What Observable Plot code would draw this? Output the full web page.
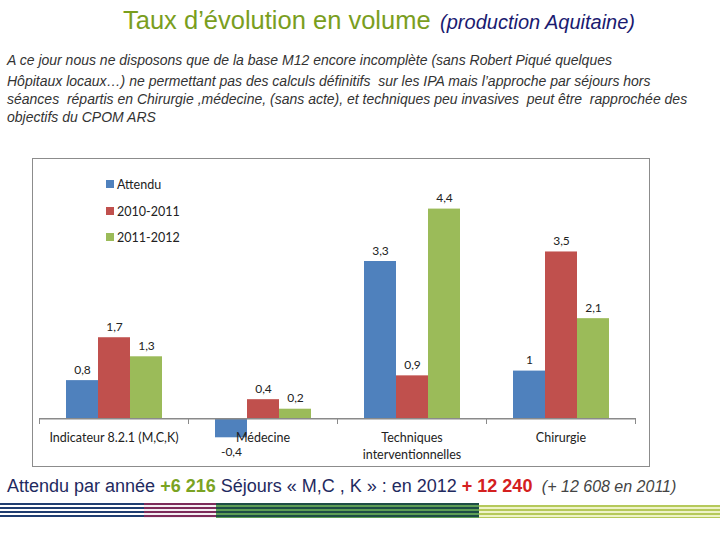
<!DOCTYPE html>
<html><head><meta charset="utf-8">
<script src="https://cdn.jsdelivr.net/npm/d3@7"></script>
<script src="https://cdn.jsdelivr.net/npm/@observablehq/plot@0.6"></script>
<style>
body{margin:0;width:720px;height:540px;background:#fff;position:relative;overflow:hidden;font-family:"Liberation Sans",Arial,sans-serif}
.abs{position:absolute;white-space:nowrap}
#title{left:123px;top:6px}
#title .g{color:#7a9e1e;font-size:25.5px}
#title .n{color:#1a1a70;font-size:20px;font-style:italic;margin-left:5px}
#para{left:7px;top:51px;font-style:italic;font-size:14px;line-height:18px;color:#333;white-space:pre}
#para .l1{display:block;margin-bottom:3px}
#box{left:32px;top:158px;width:616px;height:307px;border:1px solid #8c8c8c}
#legend{left:106px;top:177px;font-family:Lato,"Open Sans",sans-serif;font-size:12.5px;color:#222}
#legend div{height:26.5px;display:flex;align-items:flex-start}
#legend span.sw{display:inline-block;width:8px;height:8px;margin:3px 3px 0 0}
#bottom{left:7px;top:476px;font-size:18px;color:#1f2a60}
#bottom .g{color:#7aa323;font-weight:bold}
#bottom .r{color:#d42020;font-weight:bold}
#bottom .i{color:#444;font-style:italic;font-size:16px}
.stripe{position:absolute;top:503px;height:15px}
</style></head>
<body>
<div id="title" class="abs"><span class="g">Taux d’évolution en volume</span> <span class="n">(production Aquitaine)</span></div>
<div id="para" class="abs"><span class="l1">A ce jour nous ne disposons que de la base M12 encore incomplète (sans Robert Piqué quelques</span>Hôpitaux locaux…) ne permettant pas des calculs définitifs  sur les IPA mais l’approche par séjours hors
séances  répartis en Chirurgie ,médecine, (sans acte), et techniques peu invasives  peut être  rapprochée des
objectifs du CPOM ARS</div>
<div id="box" class="abs"></div>
<div id="legend" class="abs"></div>
<div id="bottom" class="abs">Attendu par année <span class="g">+6 216</span> Séjours « M,C , K » : en 2012 <span class="r">+ 12 240</span> <span class="i">&nbsp;(+ 12 608 en 2011)</span></div>
<div class="stripe" style="left:0;width:144px;background:repeating-linear-gradient(#1f3d70 0 2px,#fff 2px 4px)"></div>
<div class="stripe" style="left:144px;width:72px;background:repeating-linear-gradient(#7d2b5a 0 2px,#f4eef2 2px 4px)"></div>
<div class="stripe" style="left:216px;width:263px;background:repeating-linear-gradient(#1d4d45 0 2px,#5e9e55 2px 4px)"></div>
<div class="stripe" style="left:479px;width:241px;top:505px;height:13px;background:repeating-linear-gradient(#b5c95a 0 2px,#eef3c8 2px 4px)"></div>
<script>
const categories = ["Indicateur 8.2.1 (M,C,K)", "Médecine", "Techniques\ninterventionnelles", "Chirurgie"];
const series = ["Attendu", "2010-2011", "2011-2012"];
const attendu = [0.8, -0.4, 3.3, 1];
const evol2010_2011 = [1.7, 0.4, 0.9, 3.5];
const evol2011_2012 = [1.3, 0.2, 4.4, 2.1];
const colors = ["#4f81bd", "#c0504d", "#9bbb59"];

const valuesBySeries = [attendu, evol2010_2011, evol2011_2012];
const rows = [];
categories.forEach((c, i) => series.forEach((s, j) => rows.push({category: c, series: s, value: valuesBySeries[j][i]})));
const fmt = v => String(v).replace(".", ",");

const axisColor = "#8a8a8a";
const chart = Plot.plot({
  width: 616, height: 307,
  marginLeft: 4, marginRight: 13, marginTop: 21, marginBottom: 43,
  style: {fontFamily: "Lato, 'Open Sans', sans-serif", background: "transparent"},
  fx: {domain: categories, padding: 0, axis: null},
  x: {domain: series, paddingInner: 0, paddingOuter: 0.773, axis: null},
  y: {domain: [-0.1, 5], axis: null},
  color: {domain: series, range: colors},
  marks: [
    Plot.barY(rows, {fx: "category", x: "series", y: "value", fill: "series"}),
    Plot.ruleY([0], {stroke: axisColor, strokeWidth: 1.5}),
    Plot.frame({anchor: "left", stroke: axisColor, insetTop: 238}),
    Plot.frame({anchor: "right", stroke: axisColor, insetTop: 238}),
    Plot.text(rows.filter(d => d.value >= 0), {fx: "category", x: "series", y: "value", text: d => fmt(d.value), lineAnchor: "bottom", dy: -7, fontSize: 12, fill: "#222"}),
    Plot.text(rows.filter(d => d.value < 0), {fx: "category", x: "series", y: "value", text: d => fmt(d.value), lineAnchor: "top", dy: 10, fontSize: 12, fill: "#222"}),
    Plot.text(categories, {fx: d => d, y: () => 0, text: d => d, lineAnchor: "top", dy: 12, fontSize: 12.5, lineHeight: 1.3, fill: "#222"})
  ]
});
document.getElementById("box").appendChild(chart);

const legend = document.getElementById("legend");
series.forEach((s, j) => {
  const row = document.createElement("div");
  row.innerHTML = `<span class="sw" style="background:${colors[j]}"></span>${s}`;
  legend.appendChild(row);
});
</script>
</body></html>
